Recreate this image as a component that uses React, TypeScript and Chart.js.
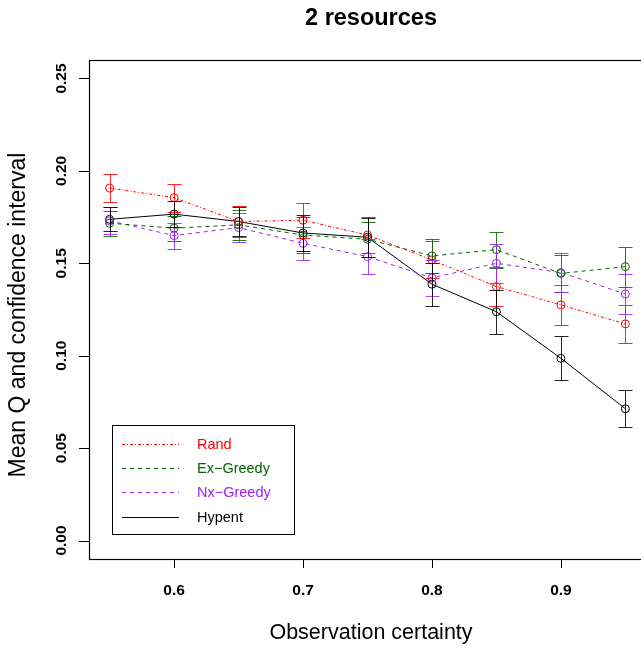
import React, { useEffect, useRef } from "react";
import { Chart, registerables } from "chart.js";

Chart.register(...registerables);

// ---- Data ----
const xValues = [0.55, 0.6, 0.65, 0.7, 0.75, 0.8, 0.85, 0.9, 0.95];

const randMean = [0.1907, 0.1855, 0.1726, 0.1733, 0.1653, 0.1518, 0.1374, 0.1275, 0.1172];
const randCI = [0.0074, 0.0076, 0.0085, 0.0095, 0.0095, 0.01, 0.0106, 0.0108, 0.0105];

const exGreedyMean = [0.1717, 0.169, 0.1708, 0.1653, 0.163, 0.154, 0.1574, 0.1445, 0.1482];
const exGreedyCI = [0.0067, 0.0068, 0.0082, 0.0095, 0.0095, 0.0092, 0.0097, 0.01, 0.0108];

const nxGreedyMean = [0.173, 0.165, 0.1693, 0.1608, 0.1536, 0.1421, 0.15, 0.145, 0.1334];
const nxGreedyCI = [0.0073, 0.007, 0.008, 0.0088, 0.0096, 0.0096, 0.0106, 0.0105, 0.0106];

const hypentMean = [0.1738, 0.1766, 0.1726, 0.1664, 0.1641, 0.1387, 0.1238, 0.0986, 0.0713];
const hypentCI = [0.0065, 0.0072, 0.0081, 0.0098, 0.0106, 0.0117, 0.012, 0.0119, 0.0099];

const seriesNames = ["Rand", "Ex\u2212Greedy", "Nx\u2212Greedy", "Hypent"];
const seriesMeans = [randMean, exGreedyMean, nxGreedyMean, hypentMean];
const seriesCIs = [randCI, exGreedyCI, nxGreedyCI, hypentCI];

const xTicks = [0.6, 0.7, 0.8, 0.9];
const xTickLabels = ["0.6", "0.7", "0.8", "0.9"];
const yTicks = [0, 0.05, 0.1, 0.15, 0.2, 0.25];
const yTickLabels = ["0.00", "0.05", "0.10", "0.15", "0.20", "0.25"];

const titleText = "2 resources";
const xTitle = "Observation certainty";
const yTitle = "Mean Q and confidence interval";

// ---- Styles ----
const colors = ["#ff0000", "#006400", "#a020f0", "#000000"];
const dashes = [[3, 2, 1, 2], [4, 4], [4, 4], []];
const FONT = '"Liberation Sans", Arial, Helvetica, sans-serif';

const W = 660;
const H = 648;

const decorPlugin = {
  id: "decor",
  afterDatasetsDraw(chart: any) {
    const ctx = chart.ctx;
    const xs = chart.scales.x;
    const ys = chart.scales.y;
    seriesMeans.forEach((means, di) => {
      const ci = seriesCIs[di];
      ctx.save();
      ctx.strokeStyle = colors[di];
      ctx.globalAlpha = 0.85;
      ctx.lineWidth = 1;
      ctx.setLineDash([]);
      xValues.forEach((x, i) => {
        const px = Math.round(xs.getPixelForValue(x)) + 0.5;
        const top = Math.round(ys.getPixelForValue(means[i] + ci[i])) + 0.5;
        const bot = Math.round(ys.getPixelForValue(means[i] - ci[i])) + 0.5;
        ctx.beginPath();
        ctx.moveTo(px, top);
        ctx.lineTo(px, bot);
        ctx.moveTo(px - 7, top);
        ctx.lineTo(px + 7, top);
        ctx.moveTo(px - 7, bot);
        ctx.lineTo(px + 7, bot);
        ctx.stroke();
      });
      ctx.restore();
    });
  },
  afterDraw(chart: any) {
    const ctx = chart.ctx;
    const a = chart.chartArea;
    const xs = chart.scales.x;
    const ys = chart.scales.y;
    ctx.save();
    // box
    ctx.strokeStyle = "#000";
    ctx.lineWidth = 1.2;
    ctx.setLineDash([]);
    ctx.strokeRect(a.left + 0.5, a.top + 0.5, a.right - a.left, a.bottom - a.top);
    // ticks
    ctx.lineWidth = 1;
    ctx.beginPath();
    xTicks.forEach((v) => {
      const px = Math.round(xs.getPixelForValue(v)) + 0.5;
      ctx.moveTo(px, a.bottom);
      ctx.lineTo(px, a.bottom + 9);
    });
    yTicks.forEach((v) => {
      const py = Math.round(ys.getPixelForValue(v)) + 0.5;
      ctx.moveTo(a.left, py);
      ctx.lineTo(a.left - 10, py);
    });
    ctx.stroke();
    // x tick labels
    ctx.fillStyle = "#000";
    ctx.font = `bold 15.5px ${FONT}`;
    ctx.textAlign = "center";
    ctx.textBaseline = "middle";
    xTicks.forEach((v, i) => {
      ctx.fillText(xTickLabels[i], xs.getPixelForValue(v), 591);
    });
    // y tick labels (rotated)
    yTicks.forEach((v, i) => {
      ctx.save();
      ctx.translate(62, ys.getPixelForValue(v));
      ctx.rotate(-Math.PI / 2);
      ctx.fillText(yTickLabels[i], 0, 0);
      ctx.restore();
    });
    // titles
    ctx.font = `bold 23.5px ${FONT}`;
    ctx.fillText(titleText, 371, 19);
    ctx.font = `21.5px ${FONT}`;
    ctx.fillText(xTitle, 371, 633);
    ctx.font = `23px ${FONT}`;
    ctx.save();
    ctx.translate(19, 315);
    ctx.rotate(-Math.PI / 2);
    ctx.fillText(yTitle, 0, 0);
    ctx.restore();
    // legend
    ctx.strokeStyle = "#000";
    ctx.lineWidth = 1;
    ctx.strokeRect(112.5, 425.5, 182, 109);
    const rowY = [444, 468, 492, 517];
    ctx.font = `14.5px ${FONT}`;
    ctx.textAlign = "left";
    seriesNames.forEach((name, i) => {
      const y = rowY[i] + 0.5;
      ctx.strokeStyle = colors[i];
      ctx.setLineDash(dashes[i]);
      ctx.beginPath();
      ctx.moveTo(122, y);
      ctx.lineTo(179, y);
      ctx.stroke();
      ctx.setLineDash([]);
      ctx.fillStyle = colors[i];
      ctx.fillText(name, 197, rowY[i] + 1);
    });
    ctx.restore();
  },
};

export default function App() {
  const ref = useRef<HTMLCanvasElement | null>(null);
  useEffect(() => {
    if (!ref.current) return;
    const datasets = seriesMeans.map((means, di) => ({
      label: seriesNames[di],
      data: xValues.map((x, i) => ({ x, y: means[i] })),
      borderColor: colors[di],
      borderWidth: 1,
      borderDash: dashes[di],
      pointStyle: "circle",
      pointRadius: 4,
      pointBorderWidth: 1,
      pointBorderColor: colors[di],
      pointBackgroundColor: "rgba(0,0,0,0)",
      fill: false,
      tension: 0,
    }));
    const chart = new Chart(ref.current, {
      type: "line",
      data: { datasets },
      options: {
        animation: false,
        responsive: false,
        devicePixelRatio: 1,
        layout: { padding: { left: 0, top: 60, right: 14, bottom: 0 } },
        plugins: { legend: { display: false }, tooltip: { enabled: false }, title: { display: false } },
        scales: {
          x: {
            type: "linear",
            min: 0.534,
            max: 0.966,
            afterBuildTicks: (s: any) => {
              s.ticks = xTicks.map((v) => ({ value: v }));
            },
            afterFit: (s: any) => {
              s.height = 89;
            },
            ticks: { display: false },
            grid: { display: false },
            border: { display: false },
          },
          y: {
            type: "linear",
            min: -0.01,
            max: 0.26,
            afterBuildTicks: (s: any) => {
              s.ticks = yTicks.map((v) => ({ value: v }));
            },
            afterFit: (s: any) => {
              s.width = 89;
            },
            ticks: { display: false },
            grid: { display: false },
            border: { display: false },
          },
        },
      },
      plugins: [decorPlugin],
    } as any);
    return () => chart.destroy();
  }, []);
  return (
    <div
      style={{
        position: "fixed",
        left: 0,
        top: 0,
        width: 641,
        height: 648,
        overflow: "hidden",
        background: "#fff",
      }}
    >
      <canvas ref={ref} width={W} height={H} style={{ width: W, height: H, display: "block" }} />
    </div>
  );
}
